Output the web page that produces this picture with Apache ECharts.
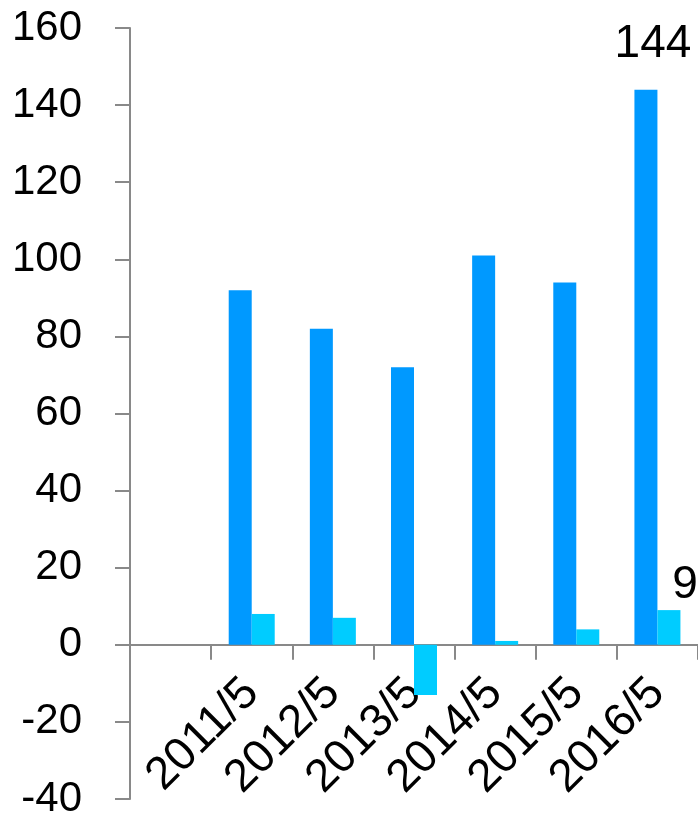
<!DOCTYPE html>
<html>
<head>
<meta charset="utf-8">
<script src="https://cdn.jsdelivr.net/npm/echarts@6/dist/echarts.min.js"></script>
<style>
  html, body { margin: 0; padding: 0; background: #fff; }
  #chart { width: 698px; height: 818px; }
</style>
</head>
<body>
<div id="chart"></div>
<script>
// Category labels (first slot is intentionally blank)
const categories = ['', '2011/5', '2012/5', '2013/5', '2014/5', '2015/5', '2016/5'];
// Main series (dark blue) and change series (cyan)
const mainValues = [null, 92, 82, 72, 101, 94, 144];
const changeValues = [null, 8, 7, -13, 1, 4, 9];
// Y axis range
const yMin = -40;
const yMax = 160;
const yStep = 20;

const FONT = '"Liberation Sans", Arial, sans-serif';
const lastIndex = categories.length - 1;

const chart = echarts.init(document.getElementById('chart'));
chart.setOption({
  animation: false,
  backgroundColor: '#ffffff',
  grid: { left: 130, right: 0, top: 28, bottom: 19, outerBoundsMode: 'none' },
  xAxis: {
    type: 'category',
    data: categories,
    axisLine: { onZero: true, lineStyle: { color: '#898989', width: 2 } },
    axisTick: { show: true, length: 15, alignWithLabel: false, lineStyle: { color: '#898989', width: 2 } },
    // labels are measured from the grid's bottom edge, so pull them up under the zero line
    axisLabel: {
      interval: 0, rotate: 45, margin: -113, hideOverlap: false,
      fontSize: 46, color: '#000', fontFamily: FONT
    },
    splitLine: { show: false }
  },
  yAxis: {
    type: 'value',
    min: yMin, max: yMax, interval: yStep,
    axisLine: { show: true, lineStyle: { color: '#898989', width: 2 } },
    axisTick: { show: true, length: 15, lineStyle: { color: '#898989', width: 2 } },
    axisLabel: { margin: 48, fontSize: 42, color: '#000', fontFamily: FONT },
    splitLine: { show: false }
  },
  series: [
    {
      type: 'bar',
      data: mainValues,
      barWidth: 23,
      barGap: '0%',
      z: 5,
      itemStyle: { color: '#0099FF' },
      label: {
        show: true, position: 'top', distance: 22, offset: [7, 0],
        fontSize: 46, color: '#000', fontFamily: FONT,
        formatter: p => (p.dataIndex === lastIndex ? String(p.value) : '')
      }
    },
    {
      type: 'bar',
      data: changeValues,
      barWidth: 23,
      barGap: '0%',
      z: 5,
      itemStyle: { color: '#00CCFF' },
      label: {
        show: true, position: 'top', distance: 2, offset: [16, 0],
        fontSize: 46, color: '#000', fontFamily: FONT,
        formatter: p => (p.dataIndex === lastIndex ? String(p.value) : '')
      }
    }
  ]
});
</script>
</body>
</html>
